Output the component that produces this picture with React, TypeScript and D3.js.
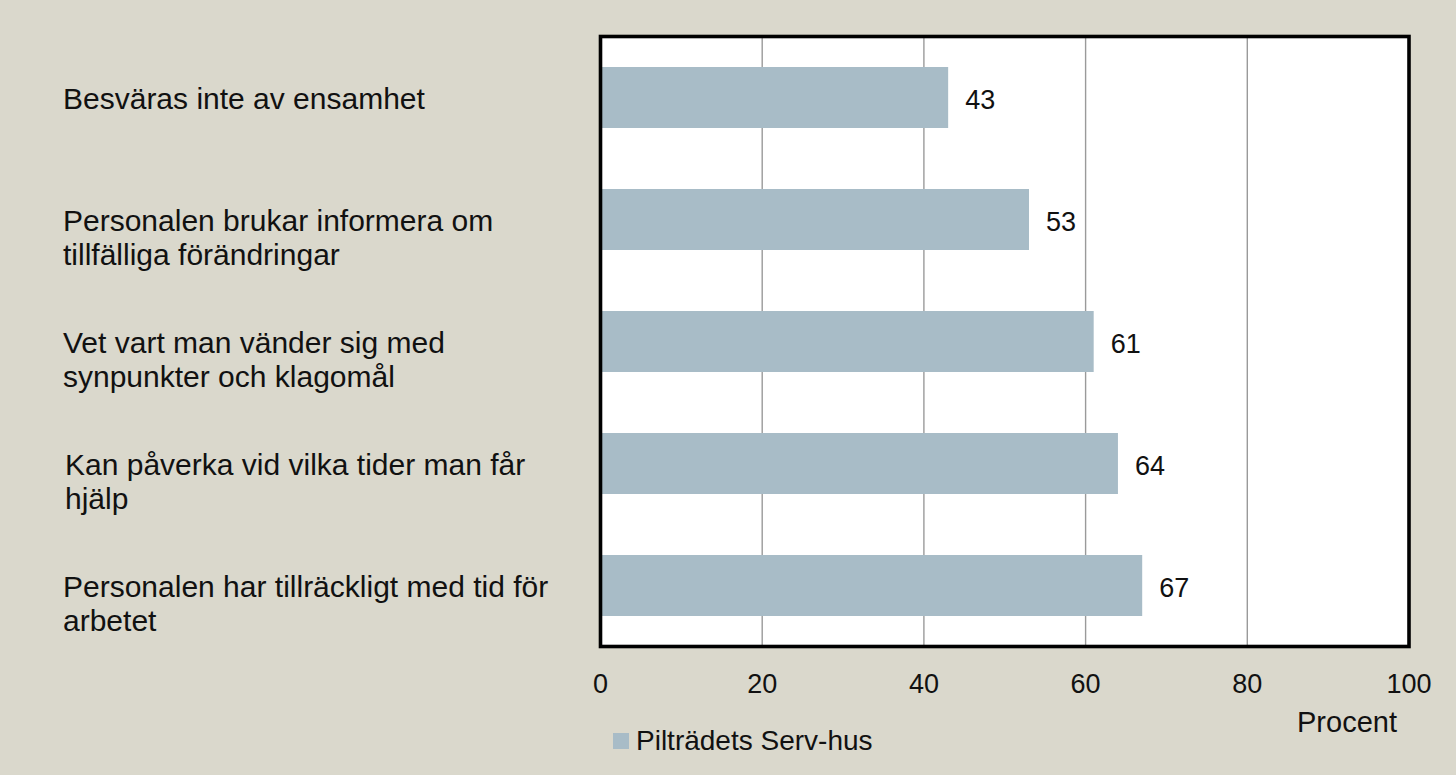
import React from 'react';
import * as d3 from 'd3';

const categories = [
  'Besväras inte av ensamhet',
  'Personalen brukar informera om tillfälliga förändringar',
  'Vet vart man vänder sig med synpunkter och klagomål',
  'Kan påverka vid vilka tider man får hjälp',
  'Personalen har tillräckligt med tid för arbetet',
];
// wrapped the way the original shows them
const labelLines = [
  ['Besväras inte av ensamhet'],
  ['Personalen brukar informera om', 'tillfälliga förändringar'],
  ['Vet vart man vänder sig med', 'synpunkter och klagomål'],
  ['Kan påverka vid vilka tider man får', 'hjälp'],
  ['Personalen har tillräckligt med tid för', 'arbetet'],
];
const values = [43, 53, 61, 64, 67];
const ticks = [0, 20, 40, 60, 80, 100];
const seriesName = 'Pilträdets Serv-hus';
const axisTitle = 'Procent';

const W = 1456;
const H = 775;
const font = '"Liberation Sans", Arial, sans-serif';
const barColor = '#a8bcc7';

const App = () => {
  const plot = { left: 600.5, right: 1409, top: 36.5, bottom: 646.5 };

  const x = d3.scaleLinear().domain([0, 100]).range([plot.left, plot.right]);
  const y = d3.scaleBand<string>()
    .domain(categories)
    .range([plot.top, plot.bottom])
    .paddingInner(0.5)
    .paddingOuter(0.25);

  return (
    <svg width={W} height={H} style={{ position: 'absolute', left: 0, top: 0 }}
      fontFamily={font}>
      <rect x={0} y={0} width={W} height={H} fill="#dad8cc" />
      <rect x={plot.left} y={plot.top} width={plot.right - plot.left}
        height={plot.bottom - plot.top} fill="#fff" />

      {ticks.slice(1, -1).map(t => (
        <line key={t} x1={x(t)} x2={x(t)} y1={plot.top} y2={plot.bottom}
          stroke="#9a9a9a" strokeWidth={1.4} />
      ))}

      {categories.map((c, i) => (
        <rect key={c} x={x(0)} y={y(c)} width={x(values[i]) - x(0)}
          height={y.bandwidth()} fill={barColor} />
      ))}

      {categories.map((c, i) => (
        <text key={c} x={x(values[i]) + 17} y={y(c)! + y.bandwidth() / 2 + 11}
          fontSize={27} fill="#111">{values[i]}</text>
      ))}

      <rect x={plot.left} y={plot.top} width={plot.right - plot.left}
        height={plot.bottom - plot.top} fill="none" stroke="#000" strokeWidth={3.6} />

      {categories.map((c, i) => (
        <text key={c} x={i === 3 ? 65 : 63} y={y(c)! + y.bandwidth() / 2 + 11}
          fontSize={30} fill="#111">
          {labelLines[i].map((l, j) => (
            <tspan key={j} x={i === 3 ? 65 : 63} dy={j === 0 ? 0 : 34}>{l}</tspan>
          ))}
        </text>
      ))}

      {ticks.map(t => (
        <text key={t} x={x(t)} y={692.5} textAnchor="middle" fontSize={27} fill="#111">{t}</text>
      ))}
      <text x={1347} y={731.5} textAnchor="middle" fontSize={29} fill="#111">{axisTitle}</text>

      <rect x={613} y={733} width={16} height={16} fill={barColor} />
      <text x={636} y={750} fontSize={28} fill="#111">{seriesName}</text>
    </svg>
  );
};

export default App;
